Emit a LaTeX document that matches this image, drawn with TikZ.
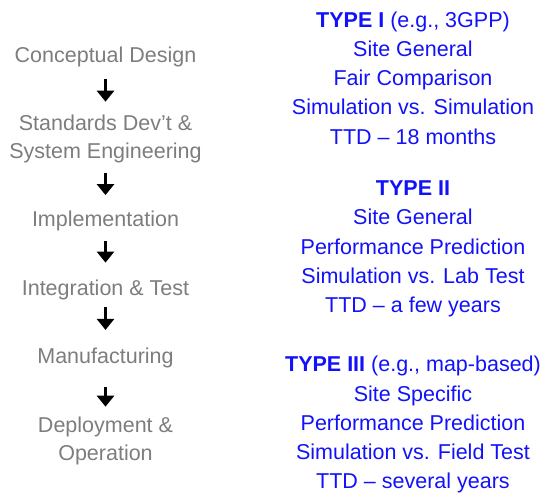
\documentclass[tikz,border=0pt]{standalone}
\usepackage{fontspec}
\setmainfont{Liberation Sans}
\usetikzlibrary{arrows.meta}
\definecolor{phasegray}{RGB}{125,125,125}
\definecolor{typeblue}{RGB}{18,18,250}

\begin{document}
\begin{tikzpicture}[x=1pt,y=-1pt,
        phase/.style={anchor=north,inner sep=0pt,align=center,text=phasegray,font=\fontsize{21.5}{27.3}\selectfont},
        kind/.style={anchor=north,inner sep=0pt,align=center,text=typeblue,font=\fontsize{21.5}{29.3}\selectfont},
        flow/.style={line width=3.6pt,black,-{Triangle[width=17pt,length=11pt]}}]
            \useasboundingbox (0,0) rectangle (544,493);

            % life cycle, left column
            \node[phase] (concept) at (105.5,46.4) {Conceptual Design};
            \node[phase] (standards) at (105.5,115) {Standards Dev’t \&\\System Engineering};
            \node[phase] (impl) at (105.5,211.1) {Implementation};
            \node[phase] (integ) at (105.5,279.4) {Integration \& Test};
            \node[phase] (manuf) at (105.5,347.4) {Manufacturing};
            \node[phase] (deploy) at (105.5,417.1) {Deployment \&\\Operation};

            \foreach \a/\b/\s/\e in {concept/standards/12.5/13.3, standards/impl/10.5/16, impl/integ/9.5/16.8, integ/manuf/7.5/17.5, manuf/deploy/19.2/10.4} {
            \draw[flow,shorten <=\s pt,shorten >=\e pt] (\a.south) -- (\b.north);}

            % model types, right column
            \node[kind] (type1) at (413,11.3) {\textbf{TYPE I} (e.g., 3GPP)\\Site General\\Fair Comparison\\Simulation vs. Simulation\\TTD – 18 months};
            \node[kind] (type2) at (413,180.6) {\textbf{TYPE II}\\Site General\\Performance Prediction\\Simulation vs. Lab Test\\TTD – a few years};
            \node[kind] (type3) at (413,356) {\textbf{TYPE III} (e.g., map-based)\\Site Specific\\Performance Prediction\\Simulation vs. Field Test\\TTD – several years};
        \end{tikzpicture}
\end{document}
